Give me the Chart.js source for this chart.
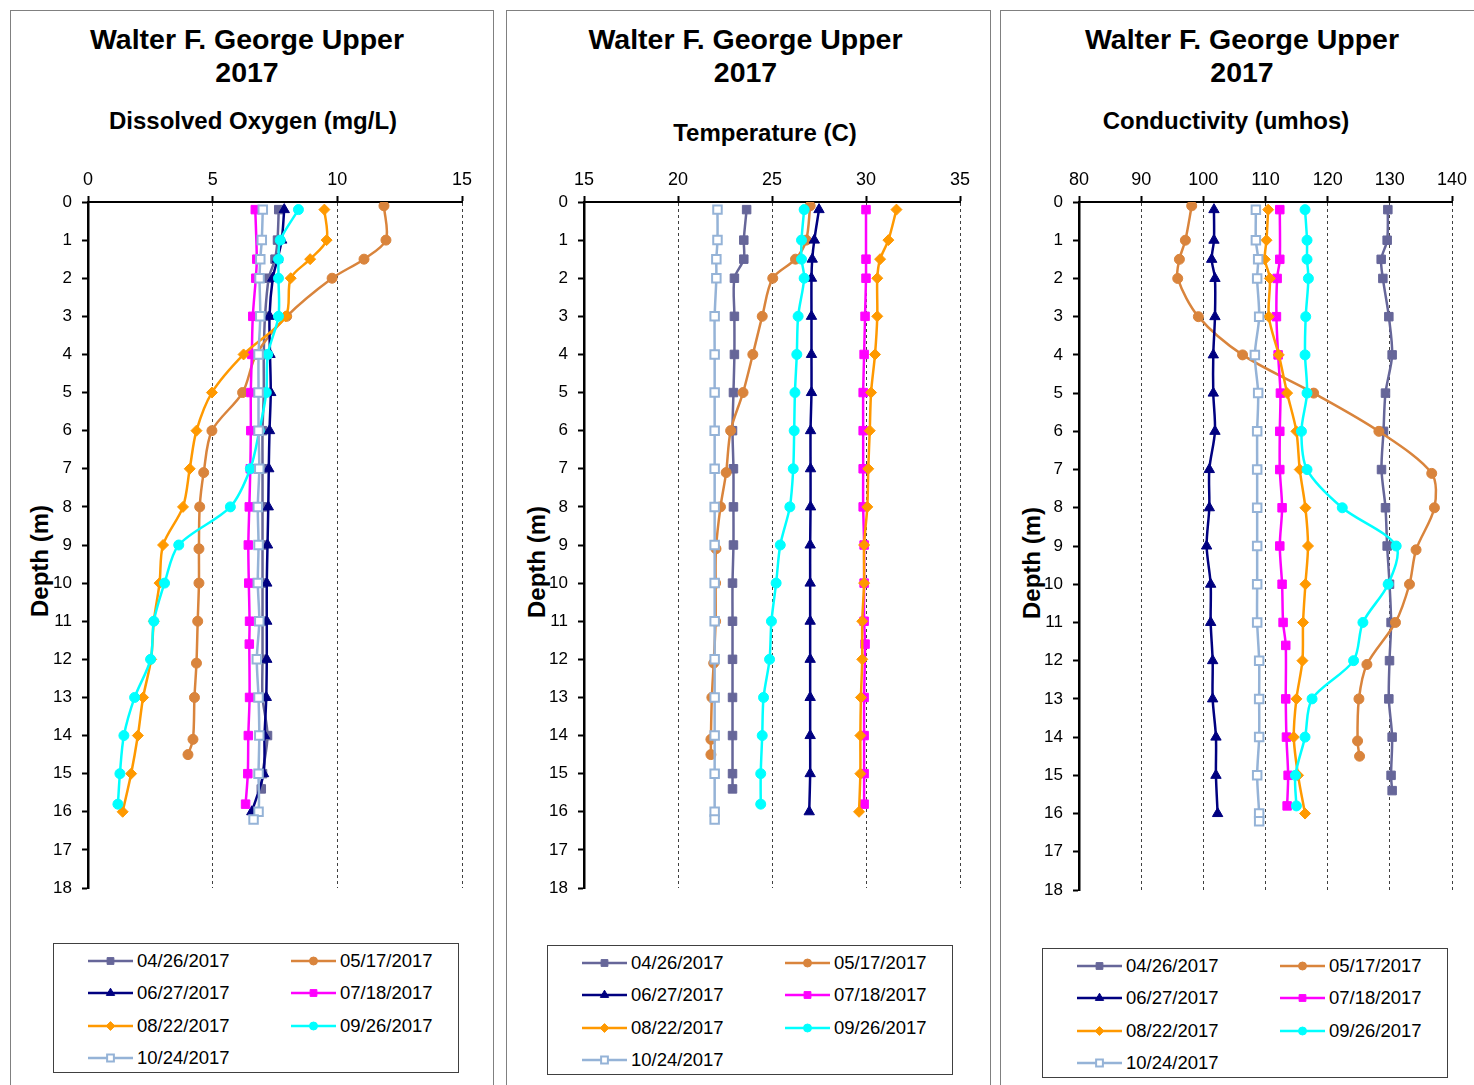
<!DOCTYPE html>
<html><head><meta charset="utf-8">
<script src="https://cdn.jsdelivr.net/npm/chart.js@4.4.0/dist/chart.umd.min.js"></script>
<style>
body{margin:0;width:1474px;height:1085px;overflow:hidden;background:#fff;font-family:"Liberation Sans",Arial,sans-serif;position:relative;color:#000}
.panel{position:absolute;top:10px;height:1100px;border:1px solid #808080;box-sizing:border-box}
.t1{position:absolute;width:460px;text-align:center;font-weight:bold;font-size:28.5px;line-height:33px;top:23px}
.t2{position:absolute;width:460px;text-align:center;font-weight:bold;font-size:24px;line-height:26px}
.ytitle{position:absolute;font-weight:bold;font-size:24px;line-height:26px;white-space:nowrap;transform:translate(-50%,-50%) rotate(-90deg)}
canvas.chart{position:absolute;top:11px}
.legend{position:absolute;border:1px solid #404040;box-sizing:border-box;width:406px;height:130px}
.li{position:absolute;font-size:18.5px;line-height:22px;white-space:nowrap}
.li canvas{position:absolute;left:-50px;top:3px}
</style></head>
<body>
<script>
// ---------- data ----------
const dates = ['04/26/2017','05/17/2017','06/27/2017','07/18/2017','08/22/2017','09/26/2017','10/24/2017'];

const depthApr = [0.2,1,1.5,2,3,4,5,6,7,8,9,10,11,12,13,14,15,15.4];
const depthMay = [0.1,1,1.5,2,3,4,5,6,7.1,8,9.1,10,11,12.1,13,14.1,14.5];
const depthJun = [0.2,1,1.5,2,3,4,5,6,7,8,9,10,11,12,13,14,15,16];
const depthJul = [0.2,1.5,2,3,4,5,6,7,8,9,10,11,11.6,13,14,15,15.8];
const depthAug = [0.2,1,1.5,2,3,4,5,6,7,8,9,10,11,12,13,14,15,16];
const depthSep = [0.2,1,1.5,2,3,4,5,6,7,8,9,10,11,12,13,14,15,15.8];
const depthOct = [0.2,1,1.5,2,3,4,5,6,7,8,9,10,11,12,13,14,15,16,16.2];

const doApr = [7.65,7.6,7.5,7.25,7.1,7.05,7.05,7.0,7.0,7.0,7.0,7.0,7.0,7.0,7.0,7.2,7.0,6.95];
const doMay = [11.87,11.95,11.07,9.79,7.97,6.75,6.2,4.97,4.64,4.48,4.45,4.45,4.4,4.35,4.27,4.21,4.01];
const doJun = [7.87,7.77,7.6,7.41,7.28,7.3,7.33,7.28,7.25,7.23,7.2,7.17,7.17,7.17,7.15,7.08,7.04,6.57];
const doJul = [6.71,6.77,6.73,6.61,6.57,6.53,6.53,6.51,6.47,6.43,6.45,6.48,6.47,6.48,6.43,6.41,6.32];
const doAug = [9.48,9.57,8.91,8.13,7.93,6.24,4.97,4.35,4.08,3.81,3.01,2.87,2.64,2.53,2.21,2.0,1.73,1.39];
const doSep = [8.44,7.71,7.64,7.64,7.64,7.21,7.15,6.87,6.51,5.71,3.64,3.07,2.64,2.51,1.87,1.44,1.28,1.2];
const doOct = [7.01,6.97,6.91,6.88,6.91,6.84,6.84,6.84,6.87,6.81,6.84,6.81,6.87,6.77,6.84,6.87,6.84,6.84,6.64];

const tempApr = [23.65,23.5,23.5,23.0,23.0,23.0,22.95,22.9,22.95,22.95,22.95,22.9,22.9,22.9,22.9,22.9,22.9,22.9];
const tempMay = [27.03,26.82,26.25,25.04,24.48,23.98,23.46,22.8,22.56,22.26,22.02,22.0,22.0,21.9,21.8,21.75,21.75];
const tempJun = [27.5,27.25,27.14,27.1,27.1,27.1,27.1,27.05,27.05,27.05,27.03,27.03,27.03,27.03,27.03,27.03,27.03,26.98];
const tempJul = [30.0,30.0,30.0,29.95,29.9,29.85,29.85,29.85,29.85,29.9,29.9,29.9,29.95,29.9,29.9,29.9,29.9];
const tempAug = [31.62,31.19,30.75,30.6,30.6,30.48,30.27,30.2,30.12,30.07,29.9,29.9,29.8,29.8,29.73,29.7,29.7,29.63];
const tempSep = [26.71,26.57,26.57,26.71,26.39,26.32,26.22,26.18,26.13,25.95,25.44,25.22,24.97,24.87,24.55,24.48,24.4,24.4];
const tempOct = [22.1,22.1,22.04,22.04,21.95,21.95,21.95,21.95,21.95,21.95,21.95,21.95,21.95,21.95,21.95,21.95,21.95,21.95,21.95];

const condApr = [129.68,129.57,128.61,128.88,129.84,130.37,129.3,128.98,128.66,129.3,129.57,129.95,130.2,129.95,129.84,130.37,130.2,130.37];
const condMay = [98.13,97.11,96.15,95.88,99.2,106.31,117.75,128.24,136.74,137.17,134.22,133.16,130.91,126.31,125.03,124.81,125.13];
const condJun = [101.71,101.71,101.34,101.87,101.87,101.6,101.6,101.87,100.96,100.96,100.53,101.18,101.18,101.5,101.5,102.03,102.03,102.3];
const condJul = [112.3,112.3,111.87,111.76,112.03,112.4,112.3,112.3,112.67,112.3,112.67,112.83,113.26,113.26,113.37,113.64,113.48];
const condAug = [110.43,110.16,109.89,110.7,110.53,112.14,113.48,114.97,115.51,116.42,116.84,116.42,116.04,115.94,114.97,114.55,115.24,116.36];
const condSep = [116.36,116.68,116.68,116.9,116.47,116.36,116.68,115.78,116.68,122.35,131.02,129.73,125.67,124.17,117.49,116.36,114.81,114.97];
const condOct = [108.45,108.45,108.82,108.66,108.98,108.29,108.82,108.66,108.66,108.66,108.66,108.66,108.66,108.98,108.98,108.98,108.66,108.98,108.98];

const depths = [depthApr,depthMay,depthJun,depthJul,depthAug,depthSep,depthOct];
const doValues = [doApr,doMay,doJun,doJul,doAug,doSep,doOct];
const tempValues = [tempApr,tempMay,tempJun,tempJul,tempAug,tempSep,tempOct];
const condValues = [condApr,condMay,condJun,condJul,condAug,condSep,condOct];

const mainTitle = ['Walter F. George Upper','2017'];
const paramTitles = ['Dissolved Oxygen (mg/L)','Temperature (C)','Conductivity (umhos)'];
const depthTitle = 'Depth (m)';

// ---------- styles ----------
const lineColors = ['#666699','#D9843C','#000080','#FF00FF','#FF9900','#00FFFF','#95B3D7'];
const fillColors = ['#666699','#D9843C','#000080','#FF00FF','#FF9900','#00FFFF','#FFFFFF'];
const shapes = ['rect','circle','triangle','rect','rectRot','circle','rect'];
const radii = [6,5,6,6,5.5,5,6];
const pbw = [1,1,1,1,1,1,2];

const FONT = '"Liberation Sans", Arial, sans-serif';

const panelDefs = [
  {values:doValues, min:0, max:15, step:5, border:{left:10,width:484}, canvas:{left:11,width:481,height:900,plotLeft:77,plotRight:451,plotBottom:877},
   titleX:247, subX:253, subY:121, yTitle:{x:40,y:561}, legend:{left:53,top:943}},
  {values:tempValues, min:15, max:35, step:5, border:{left:506,width:485}, canvas:{left:507,width:482,height:900,plotLeft:77,plotRight:453,plotBottom:877},
   titleX:745.5, subX:765, subY:133, yTitle:{x:537,y:562}, legend:{left:547,top:945}},
  {values:condValues, min:80, max:140, step:10, border:{left:1000,width:484}, canvas:{left:1001,width:473,height:900,plotLeft:78,plotRight:451,plotBottom:879},
   titleX:1242, subX:1226, subY:121, yTitle:{x:1032,y:563}, legend:{left:1042,top:948}}
];

function el(tag, cls, css, text){
  const e = document.createElement(tag);
  if (cls) e.className = cls;
  Object.assign(e.style, css||{});
  if (text!==undefined) e.textContent = text;
  document.body.appendChild(e);
  return e;
}

function drawMarker(ctx, i, x, y, r){
  ctx.save();
  ctx.fillStyle = fillColors[i]; ctx.strokeStyle = lineColors[i]; ctx.lineWidth = pbw[i];
  ctx.beginPath();
  const s = shapes[i];
  if (s==='rect'){ const h = r*Math.SQRT1_2; ctx.rect(x-h,y-h,2*h,2*h); }
  else if (s==='circle'){ ctx.arc(x,y,r,0,Math.PI*2); }
  else if (s==='triangle'){ ctx.moveTo(x, y-r); ctx.lineTo(x+r*0.866, y+r*0.5); ctx.lineTo(x-r*0.866, y+r*0.5); ctx.closePath(); }
  else if (s==='rectRot'){ ctx.moveTo(x,y-r); ctx.lineTo(x+r,y); ctx.lineTo(x,y+r); ctx.lineTo(x-r,y); ctx.closePath(); }
  ctx.fill(); ctx.stroke();
  ctx.restore();
}

panelDefs.forEach((p, pi) => {
  el('div','panel',{left:p.border.left+'px',width:p.border.width+'px'});
  const t = el('div','t1',{left:(p.titleX-230)+'px'});
  t.innerHTML = mainTitle[0] + '<br>' + mainTitle[1];
  el('div','t2',{left:(p.subX-230)+'px', top:(p.subY-13)+'px'}, paramTitles[pi]);
  el('div','ytitle',{left:p.yTitle.x+'px', top:p.yTitle.y+'px'}, depthTitle);

  const cv = el('canvas','chart',{left:p.canvas.left+'px', width:p.canvas.width+'px', height:p.canvas.height+'px'});
  cv.width = p.canvas.width; cv.height = p.canvas.height;

  const datasets = dates.map((d,i)=>({
    label: d,
    data: depths[i].map((dep,j)=>({x:p.values[i][j], y:dep})),
    showLine: true,
    borderColor: lineColors[i],
    backgroundColor: fillColors[i],
    borderWidth: 2.5,
    tension: 0.3,
    pointStyle: shapes[i],
    pointRadius: radii[i],
    pointBorderColor: lineColors[i],
    pointBackgroundColor: fillColors[i],
    pointBorderWidth: pbw[i],
    order: dates.length - 1 - i
  }));

  new Chart(cv, {
    type: 'scatter',
    data: {datasets},
    options: {
      responsive: false,
      animation: false,
      events: [],
      layout: {padding:{left:0, top:150, right:p.canvas.width - p.canvas.plotRight, bottom:p.canvas.height - p.canvas.plotBottom}},
      plugins: {legend:{display:false}, tooltip:{enabled:false}, title:{display:false}},
      scales: {
        x: {
          type:'linear', position:'top', min:p.min, max:p.max,
          afterFit: s => { s.height = 41; },
          ticks: {stepSize:p.step, color:'#000', padding:5, font:{family:FONT, size:18}},
          grid: {color:'#404040', lineWidth:1, drawTicks:true, tickLength:6, tickColor:'#000', tickWidth:2},
          border: {display:true, color:'#000', width:2, dash:[3,3]}
        },
        y: {
          type:'linear', reverse:true, min:0, max:18,
          afterFit: s => { s.width = p.canvas.plotLeft; },
          ticks: {stepSize:1, color:'#000', padding:10, font:{family:FONT, size:17}},
          grid: {drawOnChartArea:false, drawTicks:true, tickLength:6, tickColor:'#000', tickWidth:2},
          border: {display:true, color:'#000', width:2.5}
        }
      }
    }
  });

  // legend
  const lg = el('div','legend',{left:p.legend.left+'px', top:p.legend.top+'px'});
  dates.forEach((d,i)=>{
    const col = i % 2, row = Math.floor(i/2);
    const item = document.createElement('div');
    item.className = 'li';
    item.style.left = (col===0 ? 83 : 286) + 'px';
    item.style.top = (16.5 + row*32.5 - 11) + 'px';
    const c = document.createElement('canvas');
    c.width = 47; c.height = 16;
    const ctx = c.getContext('2d');
    ctx.strokeStyle = lineColors[i]; ctx.lineWidth = 2.5;
    ctx.beginPath(); ctx.moveTo(1,8); ctx.lineTo(46,8); ctx.stroke();
    drawMarker(ctx, i, 23.5, 8, radii[i]*0.8);
    item.appendChild(c);
    item.appendChild(document.createTextNode(d));
    lg.appendChild(item);
  });
});
</script>
</body></html>
